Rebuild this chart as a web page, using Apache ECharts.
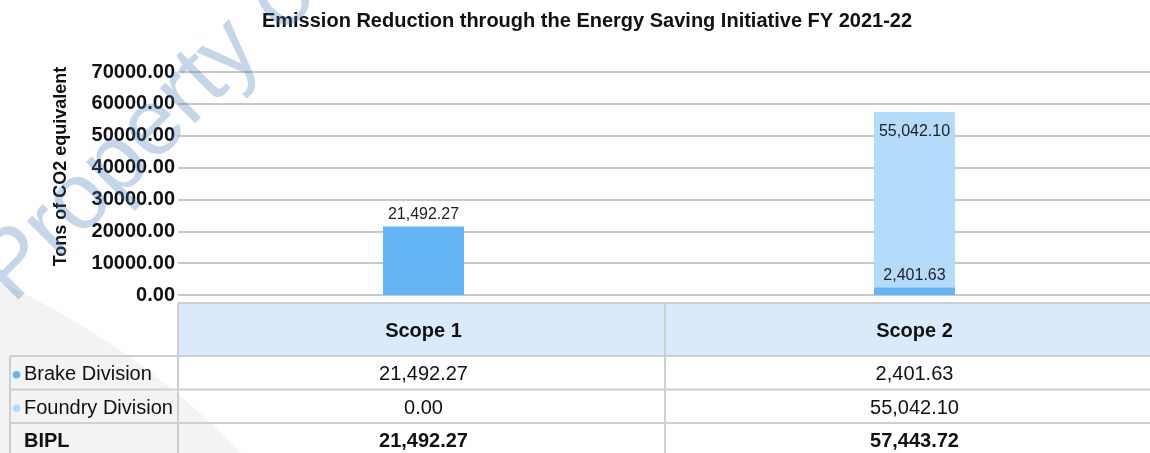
<!DOCTYPE html>
<html><head><meta charset="utf-8">
<script src="https://cdn.jsdelivr.net/npm/echarts@6/dist/echarts.min.js"></script>
<style>html,body{margin:0;padding:0;background:#fff}#c{width:1150px;height:453px}</style>
</head><body><div id="c"></div>
<script>
// ---- data ----
const chartTitle = 'Emission Reduction through the Energy Saving Initiative FY 2021-22';
const categories = ['Scope 1', 'Scope 2'];
const seriesNames = ['Brake Division', 'Foundry Division'];
const brakeDivision = [21492.27, 2401.63];
const foundryDivision = [0.00, 55042.10];
const totalName = 'BIPL';
const totals = [21492.27, 57443.72];
const yAxisName = 'Tons of CO2 equivalent';
const yMin = 0, yMax = 70000, yStep = 10000;
const watermarkText = 'Property of';

// ---- style ----
const FONT = "'Liberation Sans', Arial, sans-serif";
const colors = ['#64b5f6', '#b5dbfa'];
const fmt = v => Number(v).toLocaleString('en-US', {minimumFractionDigits: 2, maximumFractionDigits: 2});

const chart = echarts.init(document.getElementById('c'), null, {renderer: 'canvas'});
const GRID_L = 178, GRID_W = 982, GRID_T = 72, GRID_H = 223;

chart.setOption({
  animation: false,
  backgroundColor: '#fff',
  title: {
    text: chartTitle, left: 582, textAlign: 'center', top: 6,
    textStyle: {fontFamily: FONT, fontSize: 20, fontWeight: 'bold', color: '#111'}
  },
  grid: {left: GRID_L, width: GRID_W, top: GRID_T, height: GRID_H, containLabel: false, outerBoundsMode: 'none'},
  xAxis: {
    type: 'category', data: categories,
    axisLine: {show: false}, axisTick: {show: false}, axisLabel: {show: false}
  },
  yAxis: {
    type: 'value', min: yMin, max: yMax, interval: yStep,
    name: yAxisName, nameLocation: 'middle', nameGap: 108, nameRotate: 90,
    nameTextStyle: {fontFamily: FONT, fontSize: 18, fontWeight: 'bold', color: '#111', padding: [0, 0, 0, 34]},
    axisLine: {show: false}, axisTick: {show: false},
    axisLabel: {fontFamily: FONT, fontSize: 20, fontWeight: 'bold', color: '#111', margin: 3,
      formatter: v => v.toFixed(2)},
    splitLine: {lineStyle: {color: '#c8c8c8', width: 2}}
  },
  series: [
    {
      name: seriesNames[0], type: 'bar', stack: 'total', data: brakeDivision, barWidth: 81,
      itemStyle: {color: colors[0]},
      label: {show: true, position: 'top', distance: 4, fontFamily: FONT, fontSize: 16, color: '#222',
        formatter: p => fmt(p.value)}
    },
    {
      name: seriesNames[1], type: 'bar', stack: 'total', data: foundryDivision, barWidth: 81,
      itemStyle: {color: colors[1]},
      label: {show: true, position: 'insideTop', distance: 12, fontFamily: FONT, fontSize: 16, color: '#222',
        formatter: p => p.value ? fmt(p.value) : ''}
    }
  ]
});

// ---- data table + background, columns placed from the category axis ----
const centers = categories.map(c => chart.convertToPixel({xAxisIndex: 0}, c));
const COL_SPLIT = 665;
const HEAD_T = 303, HEAD_B = 356, ROW_H = 33.5, LEFT = 10;
const rowsY = [HEAD_B, HEAD_B + ROW_H, HEAD_B + 2 * ROW_H, 470];
const LINE = {stroke: '#cfcfcf', lineWidth: 2};
const g = [];

// background arc
g.push({type: 'circle', z: -20, silent: true, shape: {cx: -334, cy: 1009, r: 800}, style: {fill: '#f3f3f3'}});

// header
g.push({type: 'rect', z: 1, shape: {x: GRID_L, y: HEAD_T, width: 1150 - GRID_L, height: HEAD_B - HEAD_T},
  style: {fill: '#dbeafa'}});
categories.forEach((c, i) => {
  g.push({type: 'text', z: 5, x: centers[i], y: (HEAD_T + HEAD_B) / 2 + 2,
    style: {text: c, fill: '#111', font: `bold 20px ${FONT}`, align: 'center', verticalAlign: 'middle'}});
});
// horizontal lines
g.push({type: 'line', z: 4, shape: {x1: GRID_L, y1: HEAD_T, x2: 1150, y2: HEAD_T}, style: LINE});
[rowsY[0], rowsY[1], rowsY[2]].forEach(y => {
  g.push({type: 'line', z: 4, shape: {x1: LEFT, y1: y, x2: 1150, y2: y}, style: LINE});
});
// vertical lines
[[LEFT, rowsY[0]], [GRID_L, HEAD_T], [COL_SPLIT, HEAD_T]].forEach(([x, y0]) => {
  g.push({type: 'line', z: 4, shape: {x1: x, y1: y0, x2: x, y2: 470}, style: LINE});
});

const rows = [
  {name: seriesNames[0], vals: brakeDivision, color: colors[0], bold: false},
  {name: seriesNames[1], vals: foundryDivision, color: colors[1], bold: false},
  {name: totalName, vals: totals, color: null, bold: true}
];
rows.forEach((r, ri) => {
  const cy = rowsY[ri] + ROW_H / 2 + 2;
  if (r.color) g.push({type: 'circle', z: 5, shape: {cx: 16.5, cy: cy, r: 3.8}, style: {fill: r.color}});
  g.push({type: 'text', z: 5, x: 24, y: cy,
    style: {text: r.name, fill: '#111', font: `${r.bold ? 'bold ' : ''}20px ${FONT}`, align: 'left', verticalAlign: 'middle'}});
  r.vals.forEach((v, ci) => {
    g.push({type: 'text', z: 5, x: centers[ci], y: cy,
      style: {text: fmt(v), fill: '#111', font: `${r.bold ? 'bold ' : ''}20px ${FONT}`, align: 'center', verticalAlign: 'middle'}});
  });
});

// watermark on top, semi transparent
g.push({type: 'text', z: 100, silent: true, x: 28, y: 320, rotation: Math.PI / 4,
  style: {text: watermarkText, fill: 'rgba(62,115,185,0.3)', font: `94px ${FONT}`, align: 'left', verticalAlign: 'bottom'}});

chart.setOption({graphic: {elements: g}});
</script>
</body></html>
